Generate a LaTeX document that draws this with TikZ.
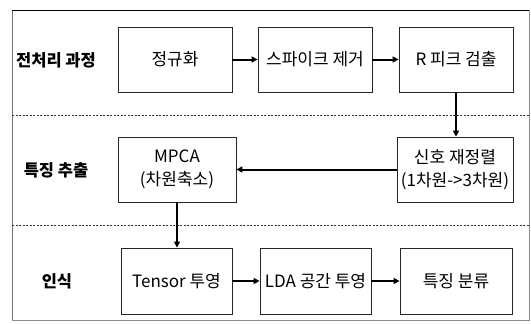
\documentclass[tikz,border=0pt]{standalone}
\usepackage{fontspec}
\setmainfont{Noto Sans CJK KR}
\usetikzlibrary{arrows.meta}
\begin{document}
\begin{tikzpicture}[x=1pt,y=-1pt,
  procbox/.style={draw=black!85,line width=0.8pt,fill=white,minimum width=114pt,minimum height=65pt,inner sep=0pt,font=\fontsize{17}{23.5}\selectfont,align=center},
  stagelabel/.style={font=\bfseries\fontsize{16.5}{19}\selectfont},
  flow/.style={line width=2pt,-{Triangle[length=6pt,width=6pt]}},
  sep/.style={line width=0.5pt,dash pattern=on 2pt off 1.5pt,black!80}]
\useasboundingbox (0,0) rectangle (531,324);
% frame
\draw[black!45,line width=0.5pt] (529,10) -- (529,320) -- (12,320);
\draw[black!55,line width=1pt] (12,320) -- (12,10);
\draw[black,line width=1pt] (12,10) -- (529,10);
% separators
\coordinate (s1a) at (12,115); \coordinate (s1b) at (529,115);
\coordinate (s2a) at (12,225); \coordinate (s2b) at (529,225);
\draw[sep] (s1a) -- (s1b);
\draw[sep] (s2a) -- (s2b);
% stage labels
\node[stagelabel] (l1) at (56,60) {전처리 과정};
\node[stagelabel] (l2) at (56,170) {특징 추출};
\node[stagelabel] (l3) at (57,281) {인식};
% row 1
\node[procbox] (a1) at (175,59.5) {정규화};
\node[procbox] (a2) at (315,59.5) {스파이크 제거};
\node[procbox] (a3) at (456,59.5) {R 피크 검출};
% row 2
\node[procbox,minimum width=118pt] (b1) at (177,169.5) {MPCA\\(차원축소)};
\node[procbox,minimum width=116pt] (b2) at (455,169.5) {신호 재정렬\\(1차원->3차원)};
% row 3
\node[procbox,minimum width=111pt,minimum height=66pt] (c1) at (176.5,281) {Tensor 투영};
\node[procbox,minimum width=111pt,minimum height=66pt] (c2) at (315.5,281) {LDA 공간 투영};
\node[procbox,minimum width=112pt,minimum height=66pt] (c3) at (456,281) {특징 분류};
% connectors
\draw[flow] (a1) -- (a2);
\draw[flow] (a2) -- (a3);
\draw[flow] (a3) -- (b2.north -| a3);
\draw[flow] (b2) -- (b1);
\draw[flow] (b1) -- (c1.north -| b1);
\draw[flow] (c1) -- (c2);
\draw[flow] (c2) -- (c3);
\end{tikzpicture}
\end{document}
